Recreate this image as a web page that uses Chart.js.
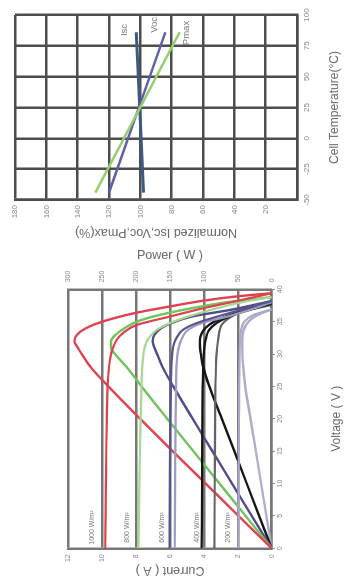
<!DOCTYPE html>
<html>
<head>
<meta charset="utf-8">
<script src="https://cdn.jsdelivr.net/npm/chart.js@4.4.1/dist/chart.umd.min.js"></script>
<style>
  html, body { margin: 0; padding: 0; background: #fff; overflow: hidden; }
  /* the sheet is laid out landscape and turned a quarter to the left */
  #sheet { position: absolute; left: 0; top: 0; width: 580px; height: 346px;
           transform-origin: 0 0; transform: translateY(580px) rotate(-90deg); background: #fff; }
  #ivChart { position: absolute; left: 0; top: 0; }
  #tempChart { position: absolute; left: 340px; top: 0; }
</style>
</head>
<body>
<div id="sheet">
  <canvas id="ivChart" width="340" height="346"></canvas>
  <canvas id="tempChart" width="240" height="346"></canvas>
</div>
<script>
// I-V curves: current (A) against voltage (V)
const vI1000 = [0, 5, 10, 15, 20, 25, 28, 29.5, 31, 32.3, 33.4, 34.5, 35.8, 37.1, 38.2, 39.4];
const iI1000 = [9.82, 9.8, 9.78, 9.76, 9.73, 9.68, 9.6, 9.52, 9.36, 9.12, 8.7, 7.96, 6.0, 4.0, 2.05, 0];
const vI800 = [0, 5, 10, 15, 20, 25, 29, 31, 32.5, 33.7, 35, 36.3, 37.3, 38.2, 38.8];
const iI800 = [7.86, 7.84, 7.81, 7.77, 7.73, 7.68, 7.6, 7.5, 7.25, 6.8, 5.8, 4.3, 2.9, 1.4, 0];
const vI600a = [0, 10, 20, 25, 29, 31, 32.5, 33.7, 34.7, 35.8, 37, 38.2];
const iI600a = [6.03, 6.01, 5.98, 5.95, 5.9, 5.82, 5.62, 5.25, 4.5, 3.2, 1.6, 0];
const vI600b = [0, 10, 20, 25, 29, 30.6, 32.2, 33.7, 34.8, 35.8, 37, 38];
const iI600b = [5.72, 5.7, 5.67, 5.64, 5.6, 5.52, 5.33, 4.95, 4.1, 2.6, 1.1, 0];
const vI400a = [0, 10, 20, 25, 29, 31, 32.5, 33.7, 34.8, 35.8, 36.8, 37.8];
const iI400a = [4.13, 4.11, 4.09, 4.07, 4.03, 3.97, 3.87, 3.7, 3.25, 2.5, 1.35, 0];
const vI400b = [0, 10, 20, 25, 29, 30.5, 32.5, 34.5, 35.5, 36.5, 37.6];
const iI400b = [3.38, 3.36, 3.34, 3.32, 3.28, 3.24, 3.15, 2.95, 2.55, 1.8, 0];
const vI200 = [0, 10, 20, 25, 30, 32.9, 34, 35, 36, 36.9];
const iI200 = [1.96, 1.95, 1.93, 1.92, 1.89, 1.85, 1.78, 1.62, 1.1, 0];

// P-V curves: power (W) against voltage (V)
const vP1000 = [0, 5, 10, 15, 20, 25, 28, 30, 31, 32, 33, 34, 35, 36.3, 37.3, 38.3, 38.9, 39.4];
const pP1000 = [0, 49, 97.5, 146, 194, 241, 267, 280, 286, 291, 287, 274, 250, 203, 153, 97, 52, 0];
const vP800 = [0, 5, 10, 15, 20, 25, 28, 30, 31, 32, 33, 34, 35, 36, 37, 38, 38.8];
const pP800 = [0, 38.5, 77, 115.5, 154, 192, 214, 231, 237, 237, 230, 217, 199, 167, 122, 66, 0];
const vP600 = [0, 5, 10, 15, 20, 25, 28, 30, 31, 32, 33, 34, 34.7, 35.8, 36.8, 37.5, 38.2];
const pP600 = [0, 29.3, 58.5, 87.5, 116.5, 145, 161, 169, 173, 175.5, 173, 163, 150, 118, 62, 30, 0];
const vP400 = [0, 5, 10, 15, 20, 25, 28, 30, 31, 32, 33, 34, 35, 36, 37, 37.7];
const pP400 = [0, 18.4, 36.8, 55.2, 73.6, 92, 101, 104.5, 105.8, 106, 104, 98, 85, 62, 30, 0];
const vP200 = [0, 5, 10, 15, 20, 25, 28, 30, 32, 33.5, 34.5, 35.5, 36.3, 36.9];
const pP200 = [0, 7.8, 15.6, 23.4, 31.2, 39, 42, 43.2, 43.5, 42, 38, 29, 15, 0];

const irradiance = ['1000 W/m²', '800 W/m²', '600 W/m²', '400 W/m²', '200 W/m²'];

// temperature behaviour, % of the 25 °C value
const cellTemp = [-44, 25, 86];
const iscPct = [97.9, 100.4, 102.6];
const vocPct = [120, 100.9, 84];
const pmaxPct = [128.7, 100.1, 74.9];
const coefNames = ['Isc', 'Voc', 'Pmax'];

Chart.defaults.font.family = "'Liberation Sans', Arial, sans-serif";
Chart.defaults.color = '#888';

function curve(label, xs, ys, color, axis, width) {
  return {
    label,
    data: xs.map((x, k) => ({ x, y: ys[k] })),
    borderColor: color,
    backgroundColor: color,
    yAxisID: axis,
    borderWidth: width,
    pointRadius: 0,
    fill: false,
    cubicInterpolationMode: 'monotone'
  };
}

// small text tags placed in data units
function tagPlugin(id, tags, yAxis, font) {
  return {
    id,
    afterDatasetsDraw(chart) {
      const { ctx, scales } = chart;
      ctx.save();
      ctx.font = font;
      ctx.fillStyle = '#777';
      ctx.textAlign = 'center';
      ctx.textBaseline = 'middle';
      tags.forEach(t => {
        ctx.fillText(t.text, scales.x.getPixelForValue(t.x), scales[yAxis].getPixelForValue(t.y));
      });
      ctx.restore();
    }
  };
}

const ivTagAmp = [10.6, 8.55, 6.49, 4.42, 2.56];
const ivTags = irradiance.map((t, k) => ({ text: t, x: 3.2, y: ivTagAmp[k] }));

new Chart(document.getElementById('ivChart'), {
  type: 'line',
  data: {
    datasets: [
      curve('1000 W/m² I-V', vI1000, iI1000, '#e0414f', 'yI', 2.2),
      curve('800 W/m² I-V', vI800, iI800, '#a6d98f', 'yI', 2.2),
      curve('600 W/m² I-V', vI600a, iI600a, '#56558e', 'yI', 2.2),
      curve('600 W/m² I-V', vI600b, iI600b, '#9d9cc2', 'yI', 2.2),
      curve('400 W/m² I-V', vI400a, iI400a, '#151515', 'yI', 2.2),
      curve('400 W/m² I-V', vI400b, iI400b, '#62626a', 'yI', 2.2),
      curve('200 W/m² I-V', vI200, iI200, '#a9a9c9', 'yI', 2.2),
      curve('1000 W/m² P-V', vP1000, pP1000, '#e0414f', 'yP', 2.4),
      curve('800 W/m² P-V', vP800, pP800, '#6fc45c', 'yP', 2.4),
      curve('600 W/m² P-V', vP600, pP600, '#4f4d8c', 'yP', 2.4),
      curve('400 W/m² P-V', vP400, pP400, '#151515', 'yP', 2.4),
      curve('200 W/m² P-V', vP200, pP200, '#aeaecb', 'yP', 2.4)
    ]
  },
  options: {
    responsive: false,
    animation: false,
    devicePixelRatio: 1,
    layout: { padding: { top: 68.3, left: 0, right: 0, bottom: 0 } },
    plugins: { legend: { display: false }, tooltip: { enabled: false } },
    scales: {
      x: {
        type: 'linear', position: 'bottom', min: 0, max: 40,
        ticks: { stepSize: 5, font: { size: 7 }, padding: 1, maxRotation: 0 },
        grid: { drawOnChartArea: false, drawTicks: true, tickLength: 3, color: '#777', lineWidth: 1 },
        border: { color: '#777', width: 2.5 },
        title: { display: true, text: 'Voltage ( V )', font: { size: 12 }, color: '#6a6a6a', padding: { top: 0, bottom: 1.8 } },
        afterFit: s => { s.height = 74.3; }
      },
      yI: {
        type: 'linear', position: 'left', min: 0, max: 12,
        ticks: { stepSize: 2, font: { size: 7 }, padding: 6 },
        grid: { color: '#777', lineWidth: 2.5, drawTicks: false },
        border: { color: '#777', width: 2.5 },
        title: { display: true, text: 'Current ( A )', font: { size: 12.5 }, color: '#6a6a6a', padding: { top: 2.5, bottom: 0 } },
        afterFit: s => { s.width = 31.7; }
      },
      yP: {
        type: 'linear', position: 'right', min: 0, max: 300,
        ticks: { stepSize: 50, font: { size: 7 }, padding: 7 },
        grid: { drawOnChartArea: false, drawTicks: false },
        border: { color: '#777', width: 2.5 },
        title: { display: true, text: 'Power ( W )', font: { size: 12.5 }, color: '#6a6a6a', padding: { top: 8.5, bottom: 0 } },
        afterFit: s => { s.width = 49.3; }
      }
    }
  },
  plugins: [tagPlugin('ivTags', ivTags, 'yI', '7px "Liberation Sans", Arial, sans-serif')]
});

const coefTagT = [87.8, 92, 85.4];
const coefTagPct = [110, 91, 70.8];
const coefTags = coefNames.map((t, k) => ({ text: t, x: coefTagT[k], y: coefTagPct[k] }));

function straight(label, ys, color, width) {
  return {
    label,
    data: cellTemp.map((x, k) => ({ x, y: ys[k] })),
    borderColor: color,
    backgroundColor: color,
    borderWidth: width,
    pointRadius: 0,
    fill: false
  };
}

new Chart(document.getElementById('tempChart'), {
  type: 'line',
  data: {
    datasets: [
      straight('Pmax', pmaxPct, '#94cf6f', 2.4),
      straight('Voc', vocPct, '#5e5fa6', 2.4),
      straight('Isc', iscPct, '#3e5a7c', 3)
    ]
  },
  options: {
    responsive: false,
    animation: false,
    devicePixelRatio: 1,
    layout: { padding: { top: 15, right: 15, left: 0, bottom: 0 } },
    plugins: { legend: { display: false }, tooltip: { enabled: false } },
    scales: {
      x: {
        type: 'linear', min: -50, max: 100,
        ticks: { stepSize: 25, font: { size: 8 }, padding: 5, maxRotation: 0 },
        grid: { color: '#4d4d4d', lineWidth: 2.5, drawTicks: false },
        border: { color: '#4d4d4d', width: 2.5 },
        title: { display: true, text: 'Cell Temperature(°C)', font: { size: 12 }, color: '#6a6a6a', padding: { top: 0, bottom: 3.8 } },
        afterFit: s => { s.height = 49; }
      },
      y: {
        type: 'linear', min: 0, max: 180,
        ticks: { stepSize: 20, font: { size: 8 }, padding: 5, callback: v => (v === 0 ? '' : v) },
        grid: { color: '#4d4d4d', lineWidth: 2.5, drawTicks: false },
        border: { color: '#4d4d4d', width: 2.5 },
        title: { display: true, text: 'Normalized Isc,Voc,Pmax(%)', font: { size: 12.5 }, color: '#6a6a6a', padding: { top: 0.5, bottom: 0 } },
        afterFit: s => { s.width = 40; }
      }
    }
  },
  plugins: [tagPlugin('coefTags', coefTags, 'y', '9.5px "Liberation Sans", Arial, sans-serif')]
});
</script>
</body>
</html>
